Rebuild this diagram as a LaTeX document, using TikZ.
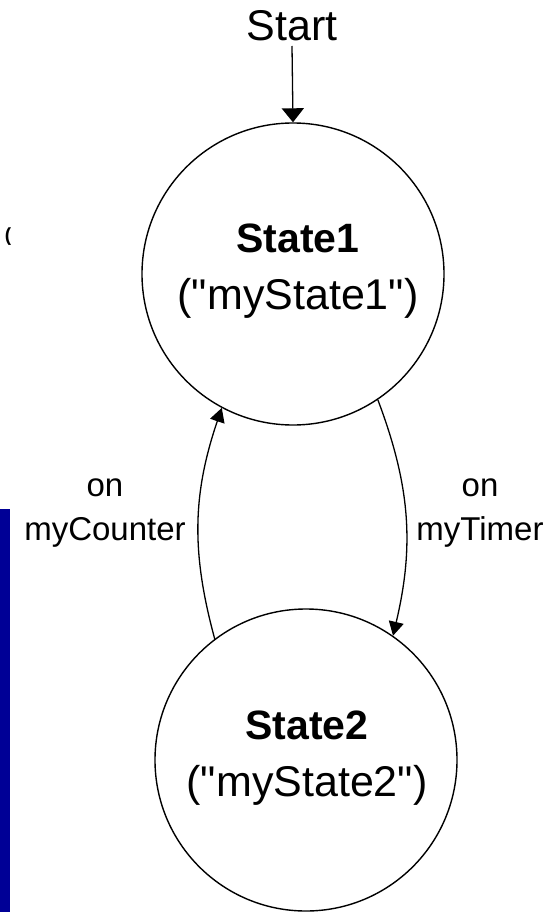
\documentclass[tikz,border=0pt]{standalone}
\usepackage{fontspec}
\setmainfont{Liberation Sans}[Ligatures=TeXOff]
\usetikzlibrary{arrows.meta}
\definecolor{barblue}{RGB}{0,0,150}
\begin{document}
\begin{tikzpicture}[x=1pt,y=-1pt,
  statenode/.style={circle,draw=black,line width=1.4pt,minimum size=302pt,inner sep=0pt},
  statetext/.style={align=center,inner sep=0pt,font=\fontsize{43}{57}\selectfont},
  bigtext/.style={font=\fontsize{43}{57}\selectfont},
  lbl/.style={align=center,inner sep=0pt,font=\fontsize{33}{43.3}\selectfont},
  arr/.style={line width=1.3pt,-{Triangle[length=14pt,width=15pt]}},
  startarr/.style={line width=1.3pt,-{Triangle[length=14pt,width=22pt]}}]
\useasboundingbox (0,0) rectangle (552,912);
% blue bar on the left
\fill[barblue] (0,509) rectangle (10,912);
% small stray parenthesis
\node[inner sep=0pt,font=\fontsize{19}{19}\selectfont\bfseries] (paren) at (8,237) {(};
% states
\node[statenode] (s1) at (293,274) {};
\node[statenode] (s2) at (306,760) {};
\node[statetext] (s1t) at (298,271.5)
  {{\fontsize{41}{57}\selectfont\bfseries State1}\\("myState1")};
\node[statetext] (s2t) at (307,758.5)
  {{\fontsize{41}{57}\selectfont\bfseries State2}\\("myState2")};
% start
\node[inner sep=0pt,anchor=base,bigtext] (start) at (292,41) {Start};
\coordinate (st) at (292,46);
\draw[startarr] (st) -- (s1.north);
% transitions
\draw[arr] (s2.127) to[bend left=17] (s1.-118);
\draw[arr] (s1.-56) to[bend left=17] (s2.55);
% labels
\node[lbl] (lc) at (105,513) {on\\myCounter};
\node[lbl] (lt) at (480,513) {on\\myTimer};
\end{tikzpicture}
\end{document}
